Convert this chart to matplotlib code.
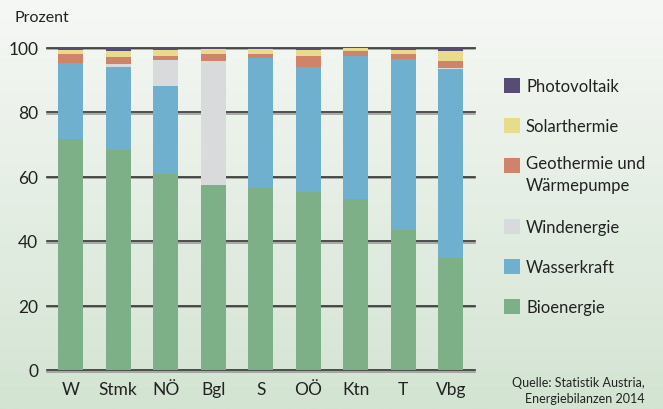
import matplotlib
matplotlib.use("Agg")
import matplotlib.pyplot as plt
import matplotlib.patheffects as pe
import numpy as np
from matplotlib.patches import Rectangle

plt.rcParams["font.family"] = ["Lato", "DejaVu Sans"]

regions = ["W", "Stmk", "NÖ", "Bgl", "S", "OÖ", "Ktn", "T", "Vbg"]

# Anteile in Prozent, von unten nach oben gestapelt
bioenergie = [71.7, 68.2, 60.8, 57.5, 56.3, 55.2, 53.0, 43.3, 34.7]
wasserkraft = [23.6, 25.9, 27.4, 0.0, 40.4, 38.9, 44.5, 53.1, 58.7]
windenergie = [0.0, 0.9, 7.8, 38.2, 0.0, 0.0, 0.0, 0.0, 0.3]
geothermie = [2.8, 1.9, 1.5, 2.4, 1.4, 3.4, 1.3, 1.6, 2.1]
solarthermie = [1.1, 1.9, 1.6, 1.4, 1.4, 1.6, 0.9, 1.3, 3.1]
photovoltaik = [0.8, 1.2, 0.9, 0.5, 0.5, 0.9, 0.3, 0.7, 1.1]

series = [
    ("Bioenergie", bioenergie, "#7db087"),
    ("Wasserkraft", wasserkraft, "#6eb0ce"),
    ("Windenergie", windenergie, "#d9dadc"),
    ("Geothermie und\nWärmepumpe", geothermie, "#cf846a"),
    ("Solarthermie", solarthermie, "#e8dc8c"),
    ("Photovoltaik", photovoltaik, "#574d73"),
]

W, H = 663, 410
fig = plt.figure(figsize=(W / 100, H / 100), dpi=100)

# background gradient
bg = fig.add_axes([0, 0, 1, 1], zorder=-10)
top = np.array([246, 248, 245]) / 255
bot = np.array([211, 228, 210]) / 255
t = np.linspace(0, 1, 256)[:, None]
grad = top * (1 - t) + bot * t
bg.imshow(grad[:, None, :].repeat(2, axis=1), aspect="auto", extent=[0, 1, 0, 1])
bg.set_axis_off()


def px(x, y):
    return x / W, 1 - y / H


left, right = 46.7, 474.7
ytop, ybot = 48.5, 371.0
ax = fig.add_axes([left / W, 1 - ybot / H, (right - left) / W, (ybot - ytop) / H])
ax.set_facecolor("none")

x = np.arange(len(regions))
bottom = np.zeros(len(regions))
for name, vals, color in series:
    ax.bar(x, vals, width=0.526, bottom=bottom, color=color, zorder=3,
           linewidth=0, clip_on=False)
    bottom += np.array(vals)

for yv in range(0, 101, 20):
    ax.axhline(yv, color="#333333", lw=1.2, zorder=1, clip_on=False,
               path_effects=[pe.SimpleLineShadow(offset=(0, -1.2), shadow_color="#888888", alpha=0.8),
                             pe.Normal()])

ax.set_xlim(-0.5, 8.5)
ax.set_ylim(0, 100)
ax.set_yticks(range(0, 101, 20))
ax.set_xticks(x)
ax.set_xticklabels(regions)
for s in ax.spines.values():
    s.set_visible(False)
ax.tick_params(axis="y", length=0, pad=6, labelsize=12.5, labelcolor="#222222")
ax.tick_params(axis="x", length=0, pad=8, labelsize=12.5, labelcolor="#222222")

fig.text(*px(15, 18), "Prozent", ha="left", va="center", fontsize=11.5, color="#222222")

# legend
legend_rows = [
    ("Photovoltaik", "#574d73", 86),
    ("Solarthermie", "#e8dc8c", 126),
    ("Geothermie und\nWärmepumpe", "#cf846a", 166),
    ("Windenergie", "#d9dadc", 227),
    ("Wasserkraft", "#6eb0ce", 267),
    ("Bioenergie", "#7db087", 307),
]
for label, color, yc in legend_rows:
    fig.patches.append(Rectangle(px(504, yc + 7.5), 15.5 / W, 15 / H, transform=fig.transFigure,
                                 facecolor=color, edgecolor="none"))
    if "\n" in label:
        fig.text(*px(526, yc - 9.5), label, ha="left", va="top", fontsize=12,
                 color="#222222", linespacing=1.4)
    else:
        fig.text(*px(526, yc + 1), label, ha="left", va="center", fontsize=12, color="#222222")

fig.text(*px(645, 383), "Quelle: Statistik Austria,", ha="right", va="center",
         fontsize=9, color="#222222")
fig.text(*px(645, 399), "Energiebilanzen 2014", ha="right", va="center",
         fontsize=9, color="#222222")

fig.savefig("out.png", dpi=100)
